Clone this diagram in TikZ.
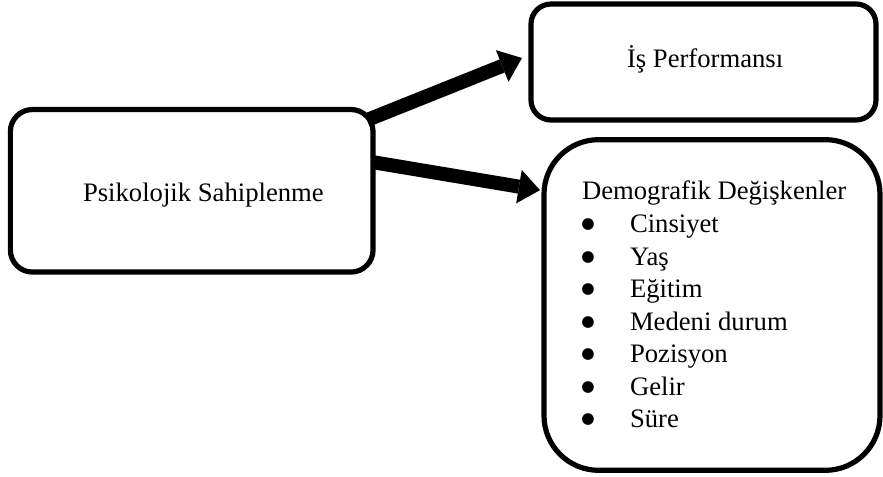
\documentclass[tikz,border=0pt]{standalone}
\usepackage{fontspec}
\setmainfont{Liberation Serif}
\newfontfamily\dejavu{DejaVu Sans}
\usetikzlibrary{arrows.meta}
\begin{document}
\begin{tikzpicture}[x=0.75pt,y=-0.75pt,
  box/.style={draw=black,line width=3.9pt,fill=white,inner sep=0pt,outer sep=0pt},
  txt/.style={inner sep=0pt,outer sep=0pt,anchor=base west,font=\fontsize{20}{24}\selectfont},
  bul/.style={inner sep=0pt,outer sep=0pt,anchor=center,font=\dejavu\fontsize{11.5}{11.5}\selectfont},
  bigarrow/.style={line width=10.5pt,line cap=butt,-{Triangle[length=16pt,width=25.5pt,line width=0pt]}}]
\useasboundingbox (0,0) rectangle (883,477);
% boxes
\node[box,rounded corners=16.5pt,minimum width=272pt,minimum height=121.9pt] (ps) at (191.7,190.8) {};
\node[box,rounded corners=15pt,minimum width=258.75pt,minimum height=87pt] (perf) at (703.5,62) {};
\node[box,rounded corners=41pt,minimum width=252pt,minimum height=248pt] (demo) at (712,305) {};
% texts
\node[txt] (pst) at (83,201.7) {Psikolojik Sahiplenme};
\node[txt] (perft) at (627,68) {İş Performansı};
\node[txt] (demot) at (582,200) {Demografik Değişkenler};
\foreach \i/\t in {1/Cinsiyet,2/Yaş,3/Eğitim,4/Medeni durum,5/Pozisyon,6/Gelir,7/Süre}{
  \node[txt] (item\i) at (630,200+32.57*\i) {\t};
  \node[bul] (b\i) at (588,192+32.57*\i) {●};
}
% arrows
\draw[bigarrow] ([shift={(-6,10.5)}]ps.north east) -- ([shift={(-9,-4)}]perf.west);
\draw[bigarrow] ([shift={(-1,52.5)}]ps.north east) -- ([shift={(-4,50.5)}]demo.north west);
\end{tikzpicture}
\end{document}
